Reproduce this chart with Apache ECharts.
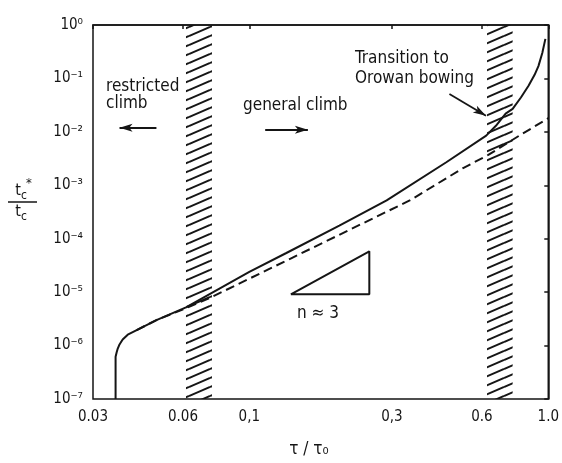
<!DOCTYPE html>
<html><head><meta charset="utf-8">
<script src="https://cdn.jsdelivr.net/npm/echarts@6/dist/echarts.min.js"></script>
<style>html,body{margin:0;padding:0;background:#fff}#c{width:562px;height:463px}</style>
</head><body><div id="c"></div>
<script>
// ---- data ----
const xTickValues = [0.03, 0.06, 0.1, 0.3, 0.6, 1.0];
const xTickLabels = ['0.03', '0.06', '0,1', '0,3', '0.6', '1.0'];
const yTickExponents = [-7, -6, -5, -4, -3, -2, -1, 0];
const yTickLabels = ['10⁻⁷', '10⁻⁶', '10⁻⁵', '10⁻⁴', '10⁻³', '10⁻²', '10⁻¹', '10⁰'];

const solidTau = [0.0357, 0.0357, 0.0360, 0.0363, 0.0368, 0.0377, 0.0392, 0.042, 0.0489, 0.0614, 0.1, 0.133, 0.2, 0.288, 0.456, 0.62, 0.668, 0.72, 0.76, 0.81, 0.859, 0.90, 0.927, 0.955, 0.978];
const solidVal = [1e-7, 6.2e-7, 7.5e-7, 8.8e-7, 1.05e-6, 1.3e-6, 1.6e-6, 1.95e-6, 3.0e-6, 5.2e-6, 2.4e-5, 5.4e-5, 1.75e-4, 5.2e-4, 2.7e-3, 8.5e-3, 1.3e-2, 2.2e-2, 2.7e-2, 4.4e-2, 7.3e-2, 0.117, 0.17, 0.30, 0.55];

const dashTau = [0.042, 0.0489, 0.0614, 0.0748, 0.138, 0.344, 0.519, 0.63, 0.80, 1.0];
const dashVal = [1.95e-6, 3.0e-6, 5.0e-6, 8.1e-6, 4.3e-5, 5.2e-4, 2.1e-3, 3.7e-3, 8.5e-3, 0.018];

const bandStart = [0.0614, 0.624];
const bandEnd = [0.075, 0.76];

const triTau = [0.1377, 0.252, 0.252, 0.1377];
const triVal = [9.1e-6, 9.1e-6, 5.8e-5, 9.1e-6];

// arrows: [tauFrom, valFrom, tauTo, valTo]
const arrowRestricted = [0.0489, 1.2e-2, 0.0368, 1.2e-2];
const arrowGeneral = [0.113, 1.1e-2, 0.157, 1.1e-2];
const arrowTransition = [0.467, 5.1e-2, 0.619, 2.0e-2];

// ---- build ----
const L = Math.log10;
const FONT = '"DejaVu Sans Condensed","Liberation Sans Narrow","DejaVu Sans",sans-serif';
const INK = '#151515';

function hatchCanvas() {
  const W = 21, H = 9;
  const c = document.createElement('canvas');
  c.width = W; c.height = H;
  const g = c.getContext('2d');
  g.strokeStyle = INK; g.lineWidth = 2;
  for (let k = -1; k <= 1; k++) {
    g.beginPath(); g.moveTo(0, H + k * H); g.lineTo(W, k * H); g.stroke();
  }
  return c;
}

const pts = (ts, vs) => ts.map((t, i) => [L(t), L(vs[i])]);
const arrowLine = a => [{coord: [L(a[0]), L(a[1])], symbol: 'none'}, {coord: [L(a[2]), L(a[3])], symbol: 'arrow', symbolSize: [6, 13]}];
const labelFor = v => {
  let best = 0;
  xTickValues.forEach((t, i) => { if (Math.abs(L(t) - v) < Math.abs(L(xTickValues[best]) - v)) best = i; });
  return xTickLabels[best];
};

const chart = echarts.init(document.getElementById('c'), null, {renderer: 'canvas'});
const txt = (text, x, y, size, align) => ({
  type: 'text', x, y, style: {text, fill: INK, font: size + 'px ' + FONT, align: align || 'left', verticalAlign: 'middle'}
});

chart.setOption({
  animation: false,
  backgroundColor: '#fff',
  grid: {left: 93, right: 9, top: 25, bottom: 64, show: true, borderColor: INK, borderWidth: 1.5},
  xAxis: {
    type: 'value', min: L(0.03), max: 0,
    axisLine: {show: true, lineStyle: {color: INK, width: 1.5}},
    axisTick: {show: true, inside: false, length: 4, customValues: xTickValues.map(L), lineStyle: {color: INK, width: 1.5}},
    axisLabel: {customValues: xTickValues.map(L), formatter: labelFor, color: INK, fontFamily: FONT, fontSize: 15, margin: 11, showMinLabel: true, showMaxLabel: true},
    splitLine: {show: false}
  },
  yAxis: {
    type: 'value', min: -7, max: 0, interval: 1,
    axisLine: {show: true, lineStyle: {color: INK, width: 1.5}},
    axisTick: {show: true, inside: false, length: 4, lineStyle: {color: INK, width: 1.5}},
    axisLabel: {formatter: v => yTickLabels[yTickExponents.indexOf(Math.round(v))], color: INK, fontFamily: FONT, fontSize: 15, margin: 10},
    splitLine: {show: false}
  },
  series: [
    {
      type: 'line', data: [], silent: true,
      markArea: {silent: true, itemStyle: {color: {image: hatchCanvas(), repeat: 'repeat'}},
        data: bandStart.map((s, i) => [{xAxis: L(s)}, {xAxis: L(bandEnd[i])}])}
    },
    {type: 'line', data: pts(solidTau, solidVal), showSymbol: false, lineStyle: {color: INK, width: 2}, silent: true, z: 3},
    {type: 'line', data: pts(dashTau, dashVal), showSymbol: false, lineStyle: {color: INK, width: 2, type: [9, 5]}, silent: true, z: 3},
    {type: 'line', data: pts(triTau, triVal), showSymbol: false, lineStyle: {color: INK, width: 2}, silent: true, z: 3},
    {
      type: 'line', data: [], silent: true,
      markLine: {silent: true, symbol: ['none', 'arrow'], label: {show: false}, lineStyle: {color: INK, width: 1.8, type: 'solid'},
        data: [arrowLine(arrowRestricted), arrowLine(arrowGeneral), arrowLine(arrowTransition)]}
    }
  ],
  graphic: [
    txt('restricted', 106, 87, 17),
    txt('climb', 106, 104, 17),
    txt('general climb', 243, 106, 17),
    txt('Transition to', 355, 59, 17),
    txt('Orowan bowing', 355, 79, 17),
    txt('n ≈ 3', 318, 314, 17, 'center'),
    txt('τ / τ₀', 309, 450, 17, 'center'),
    txt('t', 18, 191, 16, 'center'),
    txt('c', 24, 196, 12, 'center'),
    txt('*', 29, 184, 13, 'center'),
    {type: 'line', shape: {x1: 8, y1: 202, x2: 37, y2: 202}, style: {stroke: INK, lineWidth: 1.5}},
    txt('t', 18, 212, 16, 'center'),
    txt('c', 24, 217, 12, 'center')
  ]
});
</script>
</body></html>
